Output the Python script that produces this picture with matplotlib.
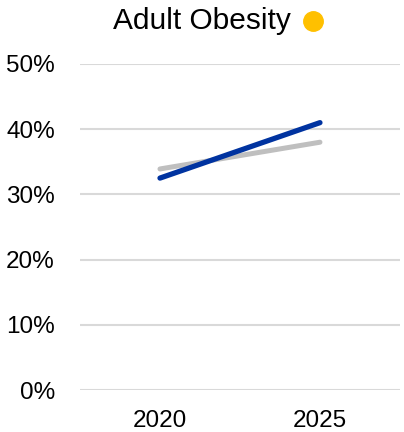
import matplotlib
matplotlib.use('Agg')
import matplotlib.pyplot as plt
from matplotlib.ticker import PercentFormatter

plt.rcParams['font.family'] = ['Liberation Sans', 'DejaVu Sans']

# Data
years = ['2020', '2025']
county = [0.325, 0.410]      # blue series
benchmark = [0.339, 0.380]   # grey series
y_ticks = [0.0, 0.1, 0.2, 0.3, 0.4, 0.5]

fig = plt.figure(figsize=(4.04, 4.32), dpi=100)
ax = fig.add_axes([0.198, 0.097, 0.792, 0.755])

x = range(len(years))
ax.plot(x, benchmark, color='#BFBFBF', lw=3.6, solid_capstyle='round', zorder=3)
ax.plot(x, county, color='#0033A0', lw=3.8, solid_capstyle='round', zorder=4)

ax.set_xlim(-0.5, 1.5)
ax.set_ylim(0, 0.5)
ax.set_xticks(list(x))
ax.set_xticklabels(years)
ax.set_yticks(y_ticks)
ax.yaxis.set_major_formatter(PercentFormatter(1.0, decimals=0))
ax.grid(axis='y', color='#D9D9D9', lw=1.5)
ax.set_axisbelow(True)
for s in ax.spines.values():
    s.set_visible(False)
ax.tick_params(axis='y', length=0, pad=18, labelsize=17.5, colors='#000000')
ax.tick_params(axis='x', length=0, pad=14, labelsize=17.5, colors='#000000')

# title with status dot
fig.text(0.5, 0.951, 'Adult Obesity', ha='center', va='center', fontsize=21.5)
fig.add_artist(plt.Line2D([0.775], [0.952], marker='o', markersize=14,
                          color='#FFC000', transform=fig.transFigure))

fig.savefig('out.png', dpi=100)
